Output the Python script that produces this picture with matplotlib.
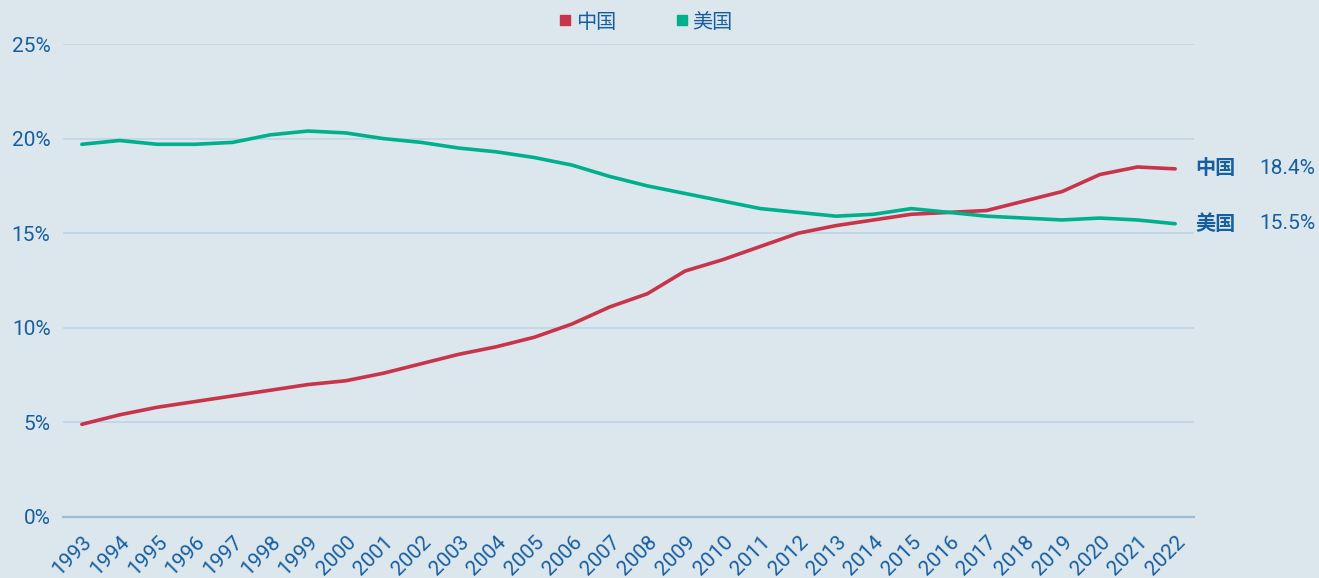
#!/usr/bin/env python3

import matplotlib
matplotlib.use("Agg")
import matplotlib.pyplot as plt
from matplotlib.lines import Line2D
from matplotlib.ticker import FuncFormatter

years = list(range(1993, 2023))
china = [4.9, 5.4, 5.8, 6.1, 6.4, 6.7, 7.0, 7.2, 7.6, 8.1,
         8.6, 9.0, 9.5, 10.2, 11.1, 11.8, 13.0, 13.6, 14.3, 15.0,
         15.4, 15.7, 16.0, 16.1, 16.2, 16.7, 17.2, 18.1, 18.5, 18.4]
usa = [19.7, 19.9, 19.7, 19.7, 19.8, 20.2, 20.4, 20.3, 20.0, 19.8,
       19.5, 19.3, 19.0, 18.6, 18.0, 17.5, 17.1, 16.7, 16.3, 16.1,
       15.9, 16.0, 16.3, 16.1, 15.9, 15.8, 15.7, 15.8, 15.7, 15.5]
series_names = ["中国", "美国"]
y_ticks = [0, 5, 10, 15, 20, 25]

bg = "#dce6ed"
text_color = "#175e9f"
red = "#c8344a"
green = "#00b08c"
fonts = ["Roboto", "Noto Sans CJK SC", "DejaVu Sans"]

plt.rcParams["font.family"] = fonts

fig = plt.figure(figsize=(13.19, 5.78), dpi=100, facecolor=bg)
ax = fig.add_axes([63 / 1319, 1 - 517 / 578, (1194 - 63) / 1319, (517 - 44) / 578])
ax.set_facecolor(bg)

ax.plot(years, china, color=red, lw=2.6, solid_capstyle="round", zorder=3)
ax.plot(years, usa, color=green, lw=2.6, solid_capstyle="round", zorder=3)

ax.set_xlim(1992.5, 2022.5)
ax.set_ylim(0, 25)
ax.set_yticks(y_ticks)
ax.yaxis.set_major_formatter(FuncFormatter(lambda v, p: f"{v:.0f}%"))
ax.set_xticks(years)
ax.set_xticklabels([])

# rotated year labels, placed by hand so they sit like the original
for y in years:
    ax.annotate(str(y), xy=(y, 0), xycoords=("data", "axes fraction"),
                xytext=(7, -22), textcoords="offset pixels", rotation=45,
                rotation_mode="anchor", ha="right", va="center",
                fontsize=15, color=text_color, annotation_clip=False)

ax.tick_params(axis="both", length=0, colors=text_color)
ax.tick_params(axis="y", labelsize=15, pad=9)

for s in ["top", "right", "left"]:
    ax.spines[s].set_visible(False)
ax.spines["bottom"].set_color("#9dbcd6")
ax.spines["bottom"].set_linewidth(1.6)
ax.grid(axis="y", color="#bcd3e4", lw=1.1)
ax.set_axisbelow(True)

# end labels
for name, vals in zip(series_names, [china, usa]):
    ax.annotate(name, xy=(years[-1], vals[-1]), xytext=(20, 0),
                textcoords="offset pixels", va="center", ha="left",
                fontsize=14.5, fontweight="bold", color=text_color,
                annotation_clip=False)
    ax.annotate(f"{vals[-1]:.1f}%", xy=(years[-1], vals[-1]), xytext=(84, 0),
                textcoords="offset pixels", va="center", ha="left",
                fontsize=15, color=text_color, annotation_clip=False)

handles = [Line2D([], [], marker="s", ls="none", color=c, markersize=7.5)
           for c in [red, green]]
leg = fig.legend(handles, series_names, loc="center",
                 bbox_to_anchor=(646 / 1319, 1 - 22 / 578), ncol=2,
                 frameon=False, fontsize=14.5, handlelength=0.6,
                 handletextpad=0.2, columnspacing=3.0)
for t in leg.get_texts():
    t.set_color(text_color)

fig.savefig("out.png", dpi=100, facecolor=bg)
